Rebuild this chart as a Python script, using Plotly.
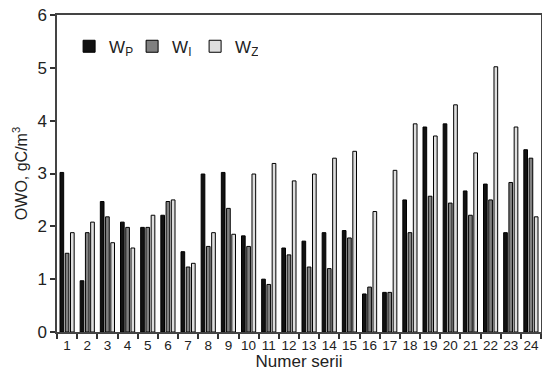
import plotly.graph_objects as go

series = [str(i) for i in range(1, 25)]
w_p = [3.02, 0.97, 2.47, 2.08, 1.98, 2.21, 1.52, 2.99, 3.02, 1.82, 1.00, 1.59,
       1.72, 1.88, 1.92, 0.72, 0.75, 2.50, 3.88, 3.94, 2.67, 2.80, 1.88, 3.45]
w_i = [1.49, 1.88, 2.18, 1.98, 1.98, 2.47, 1.23, 1.62, 2.34, 1.62, 0.90, 1.46,
       1.23, 1.20, 1.78, 0.85, 0.75, 1.88, 2.57, 2.44, 2.21, 2.50, 2.83, 3.29]
w_z = [1.88, 2.08, 1.69, 1.59, 2.21, 2.50, 1.30, 1.88, 1.85, 2.99, 3.19, 2.86,
       2.99, 3.29, 3.42, 2.28, 3.06, 3.94, 3.71, 4.30, 3.39, 5.02, 3.88, 2.18]
y_ticks = [0, 1, 2, 3, 4, 5, 6]

FONT = "Liberation Sans, Arial, sans-serif"

fig = go.Figure()
for name, vals, col in [("W<sub>P</sub>", w_p, "#111111"),
                        ("W<sub>I</sub>", w_i, "#808080"),
                        ("W<sub>Z</sub>", w_z, "#dedede")]:
    fig.add_trace(go.Bar(x=series, y=vals, name=name,
                         marker=dict(color=col, line=dict(color="#000000", width=1))))

fig.update_layout(
    width=542, height=371,
    margin=dict(l=57, r=1, t=15, b=39),
    paper_bgcolor="white", plot_bgcolor="white",
    barmode="group", bargap=0.22, bargroupgap=0.3,
    font=dict(family=FONT, color="#222222"),
    legend=dict(orientation="h", x=0.025, y=0.90, xanchor="left", yanchor="middle",
                font=dict(size=17, family=FONT), bgcolor="rgba(0,0,0,0)",
                itemwidth=30, tracegroupgap=0, entrywidth=18, entrywidthmode="pixels"),
    xaxis=dict(type="category", range=[-0.5, 23.5], tickson="boundaries",
               ticks="outside", ticklen=5, tickcolor="#333", tickwidth=1.5,
               showline=True, linecolor="#444", linewidth=1.5, mirror=True,
               tickangle=0, automargin=False, ticklabeloverflow="allow",
               tickfont=dict(size=13.5, family=FONT),
               title=dict(text="Numer serii", font=dict(size=17, family=FONT), standoff=0)),
    yaxis=dict(range=[0, 6], tickvals=y_ticks, ticks="outside", ticklen=5,
               tickcolor="#333", tickwidth=1.5, showgrid=False, zeroline=False,
               showline=True, linecolor="#444", linewidth=1.5, mirror=True,
               automargin=False, ticklabeloverflow="allow",
               tickfont=dict(size=17, family=FONT),
               title=dict(text="OWO, gC/m<sup>3</sup>", font=dict(size=16, family=FONT), standoff=6)),
)

fig.write_html("out.html", config={"displayModeBar": False},
               post_script="document.body.style.margin='0';document.body.style.overflow='hidden';")
